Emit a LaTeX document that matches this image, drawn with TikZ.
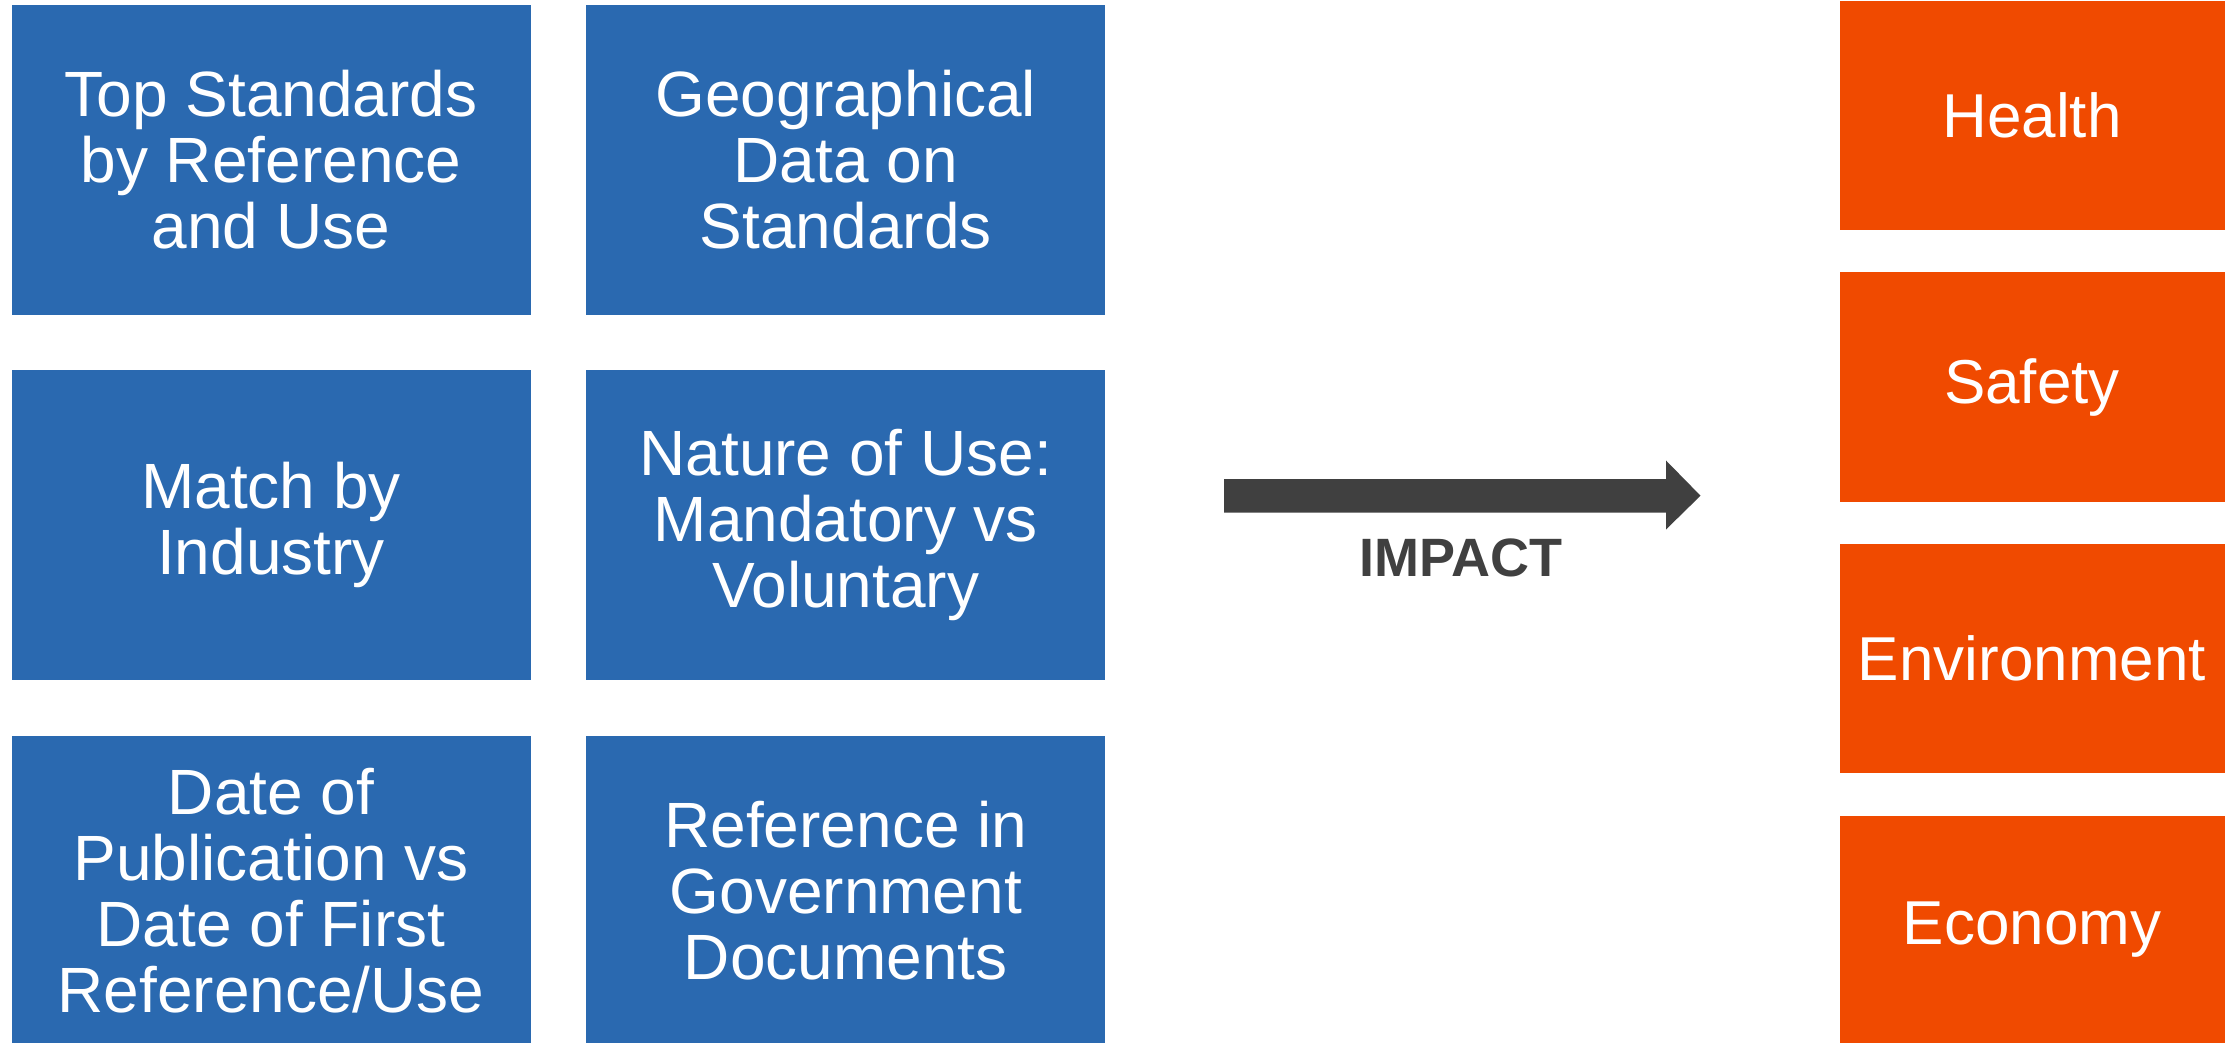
\documentclass[tikz,border=0pt]{standalone}
\usepackage{fontspec}
\setmainfont{Liberation Sans}
\definecolor{boxblue}{RGB}{42,105,176}
\definecolor{boxorange}{RGB}{240,74,0}
\definecolor{arrowgray}{RGB}{64,64,64}
\begin{document}
\begin{tikzpicture}[x=1pt,y=1pt,
  bluebox/.style={rectangle,fill=boxblue,text=white,inner sep=0pt,
    minimum width=519pt,minimum height=310.5pt,align=center,
    font=\fontsize{64}{66}\selectfont},
  orangebox/.style={rectangle,fill=boxorange,text=white,inner sep=0pt,
    minimum width=385pt,minimum height=229pt,align=center,
    font=\fontsize{62}{66}\selectfont},
  impactlabel/.style={text=arrowgray,inner sep=0pt,
    font=\fontsize{54}{60}\selectfont\bfseries}]
\useasboundingbox (0,0) rectangle (2231,-1043);
% blue grid
\node[bluebox] (b11) at (271,-160) {Top Standards\\by Reference\\and Use};
\node[bluebox] (b12) at (845.8,-160) {Geographical\\Data on\\Standards};
\node[bluebox] (b21) at (271,-525.2) {Match by\\Industry};
\node[bluebox] (b22) at (845.8,-525.2) {Nature of Use:\\Mandatory vs\\Voluntary};
\node[bluebox] (b31) at (271,-891) {Date of\\Publication vs\\Date of First\\Reference/Use};
\node[bluebox] (b32) at (845.8,-891) {Reference in\\Government\\Documents};
% orange column
\node[orangebox] (o1) at (2032,-115.5) {Health};
\node[orangebox] (o2) at (2032,-387) {Safety};
\node[orangebox] (o3) at (2032,-658.5) {Environment};
\node[orangebox] (o4) at (2032,-930) {Economy};
% arrow
\coordinate (as) at (1224,-495.7);
\coordinate (at) at (1700.5,-495.7);
\fill[arrowgray] (1224,-479) -- (1666,-479) -- (1666,-460.5) -- (at)
  -- (1666,-529.5) -- (1666,-512.5) -- (1224,-512.5) -- cycle;
\node[impactlabel] (impact) at (1461,-558) {IMPACT};
\end{tikzpicture}
\end{document}
